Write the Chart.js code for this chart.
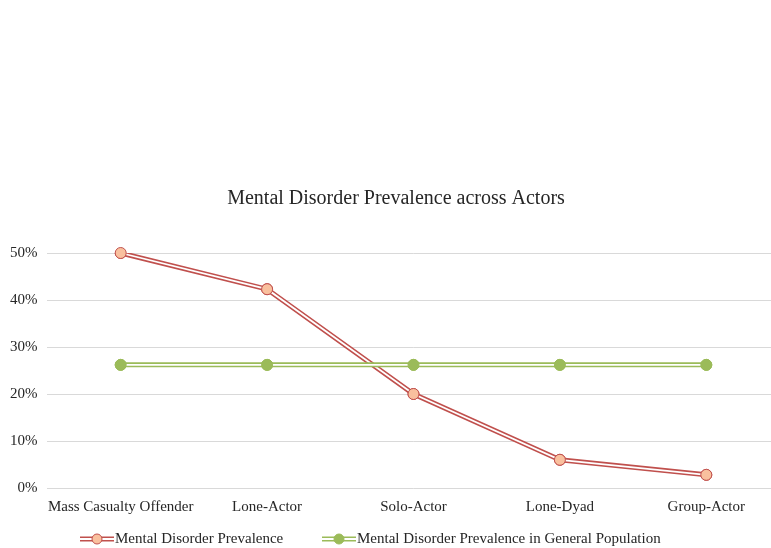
<!DOCTYPE html>
<html>
<head>
<meta charset="utf-8">
<script src="https://cdn.jsdelivr.net/npm/chart.js@4/dist/chart.umd.min.js"></script>
<style>
  html, body { margin: 0; padding: 0; background: #fff; overflow: hidden; }
  #wrap { width: 786px; height: 548px; }
</style>
</head>
<body>
<div id="wrap"><canvas id="chartCanvas" width="786" height="548"></canvas></div>
<script>
const categories = ['Mass Casualty Offender', 'Lone-Actor', 'Solo-Actor', 'Lone-Dyad', 'Group-Actor'];
const actorPrevalence = [50, 42.3, 20, 6.0, 2.8];
const generalPopulation = [26.2, 26.2, 26.2, 26.2, 26.2];
const seriesNames = ['Mental Disorder Prevalence', 'Mental Disorder Prevalence in General Population'];
const yTicks = [0, 10, 20, 30, 40, 50];
const chartTitle = 'Mental Disorder Prevalence across Actors';

const FONT = '"Liberation Serif", "Times New Roman", serif';
const RED = '#C0504D';
const RED_FILL = '#F9C09E';
const GREEN = '#9BBB59';
const TEXT = '#262626';

// Excel-style "double" line: thick coloured stroke, thin white core, markers redrawn on top
const doubleLine = {
  id: 'doubleLine',
  afterDatasetDraw(chart, args) {
    const ctx = chart.ctx;
    const pts = args.meta.data;
    ctx.save();
    ctx.strokeStyle = '#ffffff';
    ctx.lineWidth = 1.8;
    ctx.beginPath();
    pts.forEach((p, i) => { if (i === 0) ctx.moveTo(p.x, p.y); else ctx.lineTo(p.x, p.y); });
    ctx.stroke();
    ctx.restore();
    pts.forEach(p => p.draw(ctx, chart.chartArea));
  }
};

// title + legend drawn by hand (title centred like the Excel original, legend swatch = double line + marker)
const decorations = {
  id: 'decorations',
  afterDraw(chart) {
    const ctx = chart.ctx;
    ctx.save();
    ctx.fillStyle = TEXT;
    ctx.font = '20px ' + FONT;
    ctx.textAlign = 'center';
    ctx.textBaseline = 'middle';
    ctx.fillText(chartTitle, 396, 199);

    const items = [
      { x: 80, name: seriesNames[0], color: RED, fill: RED_FILL },
      { x: 322, name: seriesNames[1], color: GREEN, fill: GREEN }
    ];
    const y = 539;
    ctx.textAlign = 'left';
    items.forEach(it => {
      ctx.strokeStyle = it.color;
      ctx.lineWidth = 5;
      ctx.beginPath(); ctx.moveTo(it.x, y); ctx.lineTo(it.x + 34, y); ctx.stroke();
      ctx.strokeStyle = '#fff';
      ctx.lineWidth = 1.8;
      ctx.beginPath(); ctx.moveTo(it.x, y); ctx.lineTo(it.x + 34, y); ctx.stroke();
      ctx.beginPath();
      ctx.arc(it.x + 17, y, 5, 0, Math.PI * 2);
      ctx.fillStyle = it.fill; ctx.fill();
      ctx.strokeStyle = it.color; ctx.lineWidth = 1; ctx.stroke();
      ctx.fillStyle = TEXT;
      ctx.font = '15px ' + FONT;
      ctx.fillText(it.name, it.x + 35, y);
    });
    ctx.restore();
  }
};

new Chart(document.getElementById('chartCanvas').getContext('2d'), {
  type: 'line',
  data: {
    labels: categories,
    datasets: [
      {
        label: seriesNames[0],
        data: actorPrevalence,
        borderColor: RED,
        borderWidth: 5,
        pointRadius: 5.5,
        pointBackgroundColor: RED_FILL,
        pointBorderColor: RED,
        pointBorderWidth: 1,
        tension: 0,
        order: 1
      },
      {
        label: seriesNames[1],
        data: generalPopulation,
        borderColor: GREEN,
        borderWidth: 5,
        pointRadius: 5.5,
        pointBackgroundColor: GREEN,
        pointBorderColor: GREEN,
        pointBorderWidth: 1,
        tension: 0,
        order: 0
      }
    ]
  },
  options: {
    responsive: false,
    animation: false,
    layout: { padding: { left: 0, right: 0, top: 253, bottom: 30 } },
    plugins: {
      legend: { display: false },
      tooltip: { enabled: false },
      title: { display: false }
    },
    scales: {
      x: {
        offset: true,
        grid: { display: false },
        border: { display: false },
        ticks: { color: TEXT, font: { family: FONT, size: 15 }, padding: 2, maxRotation: 0, autoSkip: false }
      },
      y: {
        min: 0,
        max: 50,
        afterBuildTicks(axis) { axis.ticks = yTicks.map(v => ({ value: v })); },
        grid: { color: '#D9D9D9', lineWidth: 1, drawTicks: false },
        border: { display: false },
        ticks: { color: TEXT, font: { family: FONT, size: 15 }, padding: 10, callback: v => v + '%' }
      }
    }
  },
  plugins: [doubleLine, decorations]
});
</script>
</body>
</html>
